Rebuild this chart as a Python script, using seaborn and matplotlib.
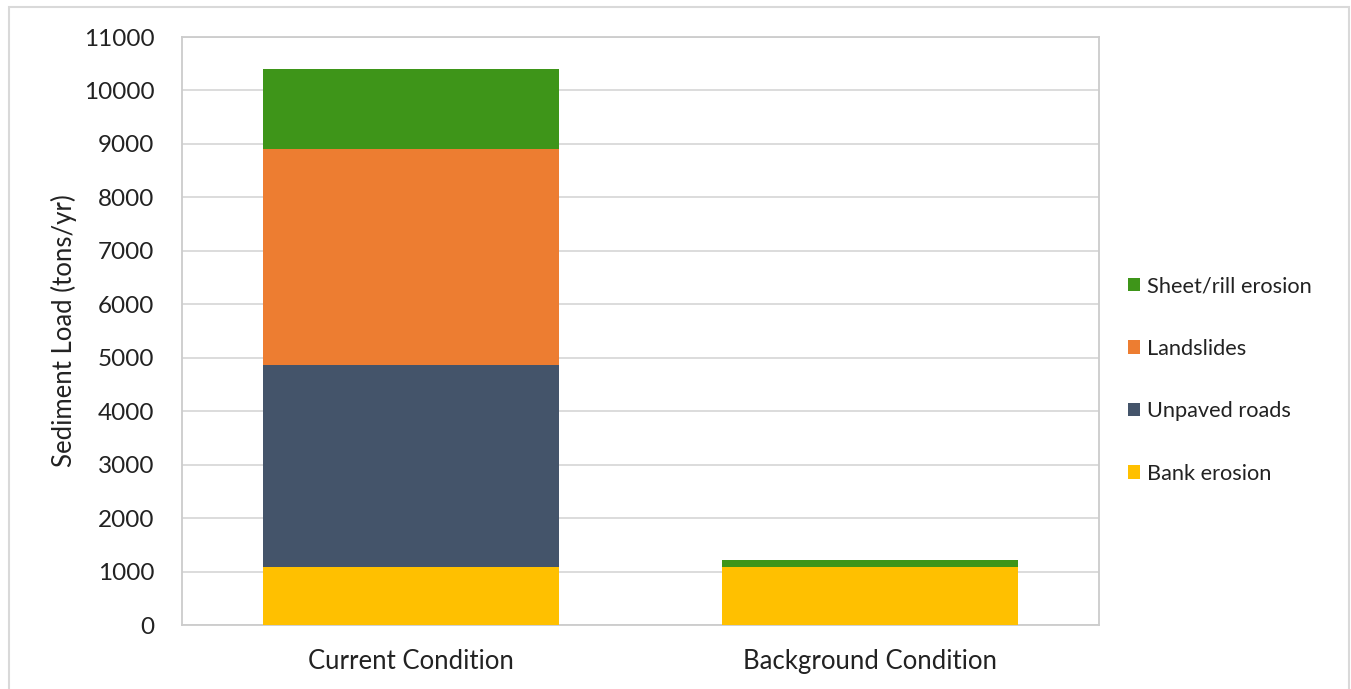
import pandas as pd
import seaborn as sns
import matplotlib.pyplot as plt
from matplotlib.patches import Patch, Rectangle

# values (tons/yr)
conditions = ['Current Condition', 'Background Condition']
bank_erosion = [1080, 1080]
unpaved_roads = [3780, 0]
landslides = [4045, 0]
sheet_rill = [1497, 136]

series_names = ['Bank erosion', 'Unpaved roads', 'Landslides', 'Sheet/rill erosion']
series_colors = ['#FFC000', '#44546A', '#ED7D31', '#3E9519']

sns.set_style('white')
plt.rcParams['font.family'] = ['Lato', 'DejaVu Sans']

df = pd.DataFrame({
    'condition': conditions,
    'Bank erosion': bank_erosion,
    'Unpaved roads': unpaved_roads,
    'Landslides': landslides,
    'Sheet/rill erosion': sheet_rill,
})
# cumulative totals so bars can be layered top-down
cum = df[series_names].cumsum(axis=1)
cum['condition'] = df['condition']

fig = plt.figure(figsize=(13.51, 6.89), dpi=100)
ax = fig.add_axes([182 / 1351, 64 / 689, 917 / 1351, 588 / 689])

for name, color in reversed(list(zip(series_names, series_colors))):
    sns.barplot(data=cum, x='condition', y=name, color=color, width=0.645,
                linewidth=0, saturation=1, ax=ax, zorder=3)

ax.set_ylim(0, 11000)
ax.set_xlim(-0.5, 1.5)
ax.set_yticks(range(0, 11001, 1000))
ax.yaxis.grid(True, color='#d9d9d9', linewidth=1.3, zorder=0)
ax.set_axisbelow(True)
for s in ax.spines.values():
    s.set_visible(True)
    s.set_color('#cccccc')
    s.set_linewidth(1.3)

ax.tick_params(axis='both', length=0, labelcolor='#222222')
ax.tick_params(axis='y', pad=20, labelsize=17.5)
ax.tick_params(axis='x', pad=17, labelsize=18.5)
ax.set_xlabel('')
ax.set_ylabel('Sediment Load (tons/yr)', fontsize=18.5, color='#222222', labelpad=5)

handles = [Patch(facecolor=c, edgecolor='none') for c in reversed(series_colors)]
labels = list(reversed(series_names))
fig.legend(handles, labels, loc='center left', bbox_to_anchor=(1108 / 1351, (689 - 380) / 689),
           frameon=False, fontsize=15.7, handlelength=0.55, handleheight=0.55,
           handletextpad=0.35, labelspacing=1.95, labelcolor='#222222')

# outer chart border
fig.add_artist(Rectangle((9 / 1351, -0.1), 1340 / 1351, 1.1 - 7 / 689,
                         transform=fig.transFigure, fill=False,
                         edgecolor='#d9d9d9', linewidth=1.5))

fig.savefig('out.png', dpi=100)
